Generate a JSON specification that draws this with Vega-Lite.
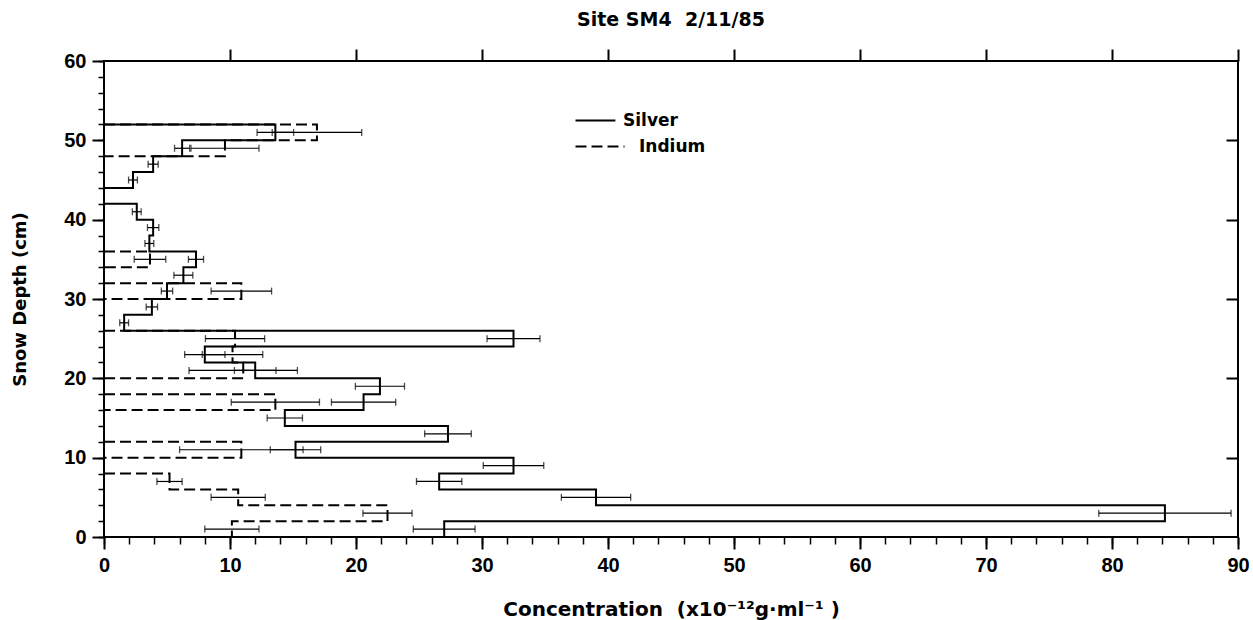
{
  "$schema": "https://vega.github.io/schema/vega-lite/v6.json",
  "width": 1134,
  "height": 476,
  "autosize": {"type": "none"},
  "padding": {"left": 104, "top": 61, "right": 15, "bottom": 83},
  "background": "white",
  "title": {"text": "Site SM4\u00a0 2/11/85", "fontSize": 19, "font": "DejaVu Sans", "fontWeight": "bold", "color": "black", "offset": 18, "anchor": "middle"},
  "config": {
    "view": {"stroke": "black", "strokeWidth": 2},
    "axis": {"domain": false, "tickColor": "black", "labelColor": "black", "titleColor": "black", "grid": false, "labelFont": "Liberation Sans", "titleFont": "DejaVu Sans"}
  },
  "data": {"values": [
    {"el": "Silver", "seg": "Ag1", "top": 52, "depth": 52, "conc": 0},
    {"el": "Silver", "seg": "Ag1", "top": 52, "depth": 51, "conc": 13.6, "err": 1.45},
    {"el": "Silver", "seg": "Ag1", "top": 50, "depth": 49, "conc": 6.2, "err": 0.6},
    {"el": "Silver", "seg": "Ag1", "top": 48, "depth": 47, "conc": 3.9, "err": 0.4},
    {"el": "Silver", "seg": "Ag1", "top": 46, "depth": 45, "conc": 2.3, "err": 0.35},
    {"el": "Silver", "seg": "Ag1", "top": 44, "depth": 44, "conc": 0},
    {"el": "Silver", "seg": "Ag2", "top": 42, "depth": 42, "conc": 0},
    {"el": "Silver", "seg": "Ag2", "top": 42, "depth": 41, "conc": 2.6, "err": 0.35},
    {"el": "Silver", "seg": "Ag2", "top": 40, "depth": 39, "conc": 3.9, "err": 0.45},
    {"el": "Silver", "seg": "Ag2", "top": 38, "depth": 37, "conc": 3.6, "err": 0.35},
    {"el": "Silver", "seg": "Ag2", "top": 36, "depth": 35, "conc": 7.3, "err": 0.6},
    {"el": "Silver", "seg": "Ag2", "top": 34, "depth": 33, "conc": 6.3, "err": 0.75},
    {"el": "Silver", "seg": "Ag2", "top": 32, "depth": 31, "conc": 5.0, "err": 0.45},
    {"el": "Silver", "seg": "Ag2", "top": 30, "depth": 29, "conc": 3.8, "err": 0.45},
    {"el": "Silver", "seg": "Ag2", "top": 28, "depth": 27, "conc": 1.6, "err": 0.35},
    {"el": "Silver", "seg": "Ag2", "top": 26, "depth": 25, "conc": 32.5, "err": 2.1},
    {"el": "Silver", "seg": "Ag2", "top": 24, "depth": 23, "conc": 8.0, "err": 1.6},
    {"el": "Silver", "seg": "Ag2", "top": 22, "depth": 21, "conc": 12.0, "err": 1.65},
    {"el": "Silver", "seg": "Ag2", "top": 20, "depth": 19, "conc": 21.9, "err": 1.95},
    {"el": "Silver", "seg": "Ag2", "top": 18, "depth": 17, "conc": 20.6, "err": 2.55},
    {"el": "Silver", "seg": "Ag2", "top": 16, "depth": 15, "conc": 14.35, "err": 1.4},
    {"el": "Silver", "seg": "Ag2", "top": 14, "depth": 13, "conc": 27.3, "err": 1.85},
    {"el": "Silver", "seg": "Ag2", "top": 12, "depth": 11, "conc": 15.2, "err": 2.0},
    {"el": "Silver", "seg": "Ag2", "top": 10, "depth": 9, "conc": 32.5, "err": 2.4},
    {"el": "Silver", "seg": "Ag2", "top": 8, "depth": 7, "conc": 26.6, "err": 1.8},
    {"el": "Silver", "seg": "Ag2", "top": 6, "depth": 5, "conc": 39.05, "err": 2.75},
    {"el": "Silver", "seg": "Ag2", "top": 4, "depth": 3, "conc": 84.2, "err": 5.25},
    {"el": "Silver", "seg": "Ag2", "top": 2, "depth": 1, "conc": 27.0, "err": 2.45},
    {"el": "Silver", "seg": "Ag2", "top": 0, "depth": 0, "conc": 0},
    {"el": "Indium", "seg": "In1", "top": 52, "depth": 52, "conc": 0},
    {"el": "Indium", "seg": "In1", "top": 52, "depth": 51, "conc": 16.9, "err": 3.55},
    {"el": "Indium", "seg": "In1", "top": 50, "depth": 49, "conc": 9.6, "err": 2.7},
    {"el": "Indium", "seg": "In1", "top": 48, "depth": 48, "conc": 0},
    {"el": "Indium", "seg": "In2", "top": 36, "depth": 36, "conc": 0},
    {"el": "Indium", "seg": "In2", "top": 36, "depth": 35, "conc": 3.65, "err": 1.25},
    {"el": "Indium", "seg": "In2", "top": 34, "depth": 34, "conc": 0},
    {"el": "Indium", "seg": "In3", "top": 32, "depth": 32, "conc": 0},
    {"el": "Indium", "seg": "In3", "top": 32, "depth": 31, "conc": 10.9, "err": 2.4},
    {"el": "Indium", "seg": "In3", "top": 30, "depth": 30, "conc": 0},
    {"el": "Indium", "seg": "In4", "top": 26, "depth": 26, "conc": 0},
    {"el": "Indium", "seg": "In4", "top": 26, "depth": 25, "conc": 10.4, "err": 2.35},
    {"el": "Indium", "seg": "In4", "top": 24, "depth": 23, "conc": 10.2, "err": 2.4},
    {"el": "Indium", "seg": "In4", "top": 22, "depth": 21, "conc": 11.05, "err": 4.3},
    {"el": "Indium", "seg": "In4", "top": 20, "depth": 20, "conc": 0},
    {"el": "Indium", "seg": "In5", "top": 18, "depth": 18, "conc": 0},
    {"el": "Indium", "seg": "In5", "top": 18, "depth": 17, "conc": 13.6, "err": 3.5},
    {"el": "Indium", "seg": "In5", "top": 16, "depth": 16, "conc": 0},
    {"el": "Indium", "seg": "In6", "top": 12, "depth": 12, "conc": 0},
    {"el": "Indium", "seg": "In6", "top": 12, "depth": 11, "conc": 10.9, "err": 4.9},
    {"el": "Indium", "seg": "In6", "top": 10, "depth": 10, "conc": 0},
    {"el": "Indium", "seg": "In7", "top": 8, "depth": 8, "conc": 0},
    {"el": "Indium", "seg": "In7", "top": 8, "depth": 7, "conc": 5.2, "err": 1.0},
    {"el": "Indium", "seg": "In7", "top": 6, "depth": 5, "conc": 10.65, "err": 2.15},
    {"el": "Indium", "seg": "In7", "top": 4, "depth": 3, "conc": 22.5, "err": 1.95},
    {"el": "Indium", "seg": "In7", "top": 2, "depth": 1, "conc": 10.15, "err": 2.15},
    {"el": "Indium", "seg": "In7", "top": 0, "depth": 0, "conc": 0}
  ]},
  "resolve": {"axis": {"x": "independent", "y": "independent"}},
  "layer": [
    {
      "transform": [{"filter": "datum.el === 'Silver'"}],
      "mark": {"type": "line", "interpolate": "step-before", "color": "black", "strokeWidth": 2},
      "encoding": {
        "x": {"field": "conc", "type": "quantitative", "scale": {"domain": [0, 90], "nice": false, "zero": false},
          "axis": {"orient": "bottom", "values": [0, 10, 20, 30, 40, 50, 60, 70, 80, 90], "tickSize": 12, "tickWidth": 2, "labelFontSize": 20, "labelFontWeight": "bold", "labelPadding": 6, "labelFlush": false, "title": "Concentration\u00a0 (x10⁻¹²g·ml⁻¹\u00a0)", "titleFontSize": 20, "titleFontWeight": "bold", "titlePadding": 24}},
        "y": {"field": "top", "type": "quantitative", "scale": {"domain": [0, 60], "nice": false, "zero": false},
          "axis": {"orient": "left", "values": [0, 10, 20, 30, 40, 50, 60], "tickSize": 12, "tickWidth": 2, "labelFontSize": 20, "labelFontWeight": "bold", "labelPadding": 6, "labelFlush": false, "title": "Snow Depth (cm)", "titleFontSize": 18, "titleFontWeight": "bold", "titlePadding": 34}},
        "detail": {"field": "seg"},
        "order": {"field": "depth", "sort": "descending"},
        "strokeDash": {"field": "el", "type": "nominal", "scale": {"domain": ["Silver", "Indium"], "range": [[1, 0], [11, 5]]},
          "legend": {"title": null, "orient": "none", "legendX": 470, "legendY": 51, "symbolType": "M-1,0H6", "symbolSize": 196, "symbolStrokeWidth": 2, "symbolStrokeColor": "black", "labelFontSize": 17, "labelFontWeight": "bold", "labelFont": "DejaVu Sans", "labelColor": "black", "labelOffset": 48, "rowPadding": 8,
            "encode": {
              "symbols": {"update": {"shape": {"signal": "datum.value === 'Silver' ? 'M-1,0H4.7' : 'M-1,0H6'"}}},
              "labels": {"update": {"dx": {"signal": "datum.value === 'Silver' ? -16 : 0"}}}
            }}}
      }
    },
    {
      "transform": [{"filter": "datum.el === 'Indium'"}],
      "mark": {"type": "line", "interpolate": "step-before", "color": "black", "strokeWidth": 2},
      "encoding": {
        "x": {"field": "conc", "type": "quantitative",
          "axis": {"orient": "bottom", "values": [0,2,4,6,8,10,12,14,16,18,20,22,24,26,28,30,32,34,36,38,40,42,44,46,48,50,52,54,56,58,60,62,64,66,68,70,72,74,76,78,80,82,84,86,88,90], "tickSize": 7, "tickWidth": 1.5, "labels": false, "title": null}},
        "y": {"field": "top", "type": "quantitative",
          "axis": {"orient": "right", "values": [10, 20, 30, 40, 50], "tickSize": 12, "tickWidth": 2, "offset": -12, "labels": false, "title": null}},
        "detail": {"field": "seg"},
        "order": {"field": "depth", "sort": "descending"},
        "strokeDash": {"field": "el", "type": "nominal"}
      }
    },
    {
      "transform": [{"filter": {"field": "err", "valid": true}}],
      "mark": {"type": "errorbar", "color": "black", "ticks": {"size": 7, "thickness": 1.3, "color": "black"}, "rule": {"strokeWidth": 1.2, "color": "black"}},
      "encoding": {
        "x": {"field": "conc", "type": "quantitative",
          "axis": {"orient": "top", "values": [10, 20, 30, 40, 50, 60, 70, 80, 90], "tickSize": 12, "tickWidth": 2, "labels": false, "title": null}},
        "xError": {"field": "err"},
        "y": {"field": "depth", "type": "quantitative",
          "axis": {"orient": "left", "values": [0,2,4,6,8,10,12,14,16,18,20,22,24,26,28,30,32,34,36,38,40,42,44,46,48,50,52,54,56,58,60], "tickSize": 6, "tickWidth": 1.5, "labels": false, "title": null}}
      }
    }
  ]
}
